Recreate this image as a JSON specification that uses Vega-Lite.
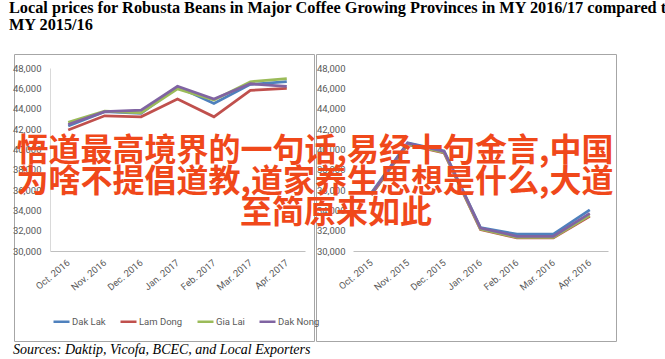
{
  "$schema": "https://vega.github.io/schema/vega-lite/v6.json",
  "background": "white",
  "padding": {"left": 8, "top": 0, "right": 0, "bottom": 0},
  "title": {
    "text": ["Local prices for Robusta Beans in Major Coffee Growing Provinces in MY 2016/17 compared to", "MY 2015/16"],
    "anchor": "start",
    "font": "Liberation Serif",
    "fontSize": 16.3,
    "fontWeight": "bold",
    "color": "#000000",
    "lineHeight": 17,
    "offset": 20,
    "dx": -3
  },
  "datasets": {
    "my1617": [
      {"month": "Oct. 2016", "province": "Dak Lak", "price": 42300},
      {"month": "Nov. 2016", "province": "Dak Lak", "price": 43700},
      {"month": "Dec. 2016", "province": "Dak Lak", "price": 43550},
      {"month": "Jan. 2017", "province": "Dak Lak", "price": 46150},
      {"month": "Feb. 2017", "province": "Dak Lak", "price": 44500},
      {"month": "Mar. 2017", "province": "Dak Lak", "price": 46400},
      {"month": "Apr. 2017", "province": "Dak Lak", "price": 46650},
      {"month": "Oct. 2016", "province": "Lam Dong", "price": 41900},
      {"month": "Nov. 2016", "province": "Lam Dong", "price": 43300},
      {"month": "Dec. 2016", "province": "Lam Dong", "price": 43200},
      {"month": "Jan. 2017", "province": "Lam Dong", "price": 44950},
      {"month": "Feb. 2017", "province": "Lam Dong", "price": 43200},
      {"month": "Mar. 2017", "province": "Lam Dong", "price": 45800},
      {"month": "Apr. 2017", "province": "Lam Dong", "price": 46000},
      {"month": "Oct. 2016", "province": "Gia Lai", "price": 42650},
      {"month": "Nov. 2016", "province": "Gia Lai", "price": 43750},
      {"month": "Dec. 2016", "province": "Gia Lai", "price": 43600},
      {"month": "Jan. 2017", "province": "Gia Lai", "price": 45950},
      {"month": "Feb. 2017", "province": "Gia Lai", "price": 44850},
      {"month": "Mar. 2017", "province": "Gia Lai", "price": 46650},
      {"month": "Apr. 2017", "province": "Gia Lai", "price": 46950},
      {"month": "Oct. 2016", "province": "Dak Nong", "price": 42450},
      {"month": "Nov. 2016", "province": "Dak Nong", "price": 43700},
      {"month": "Dec. 2016", "province": "Dak Nong", "price": 43850},
      {"month": "Jan. 2017", "province": "Dak Nong", "price": 46200},
      {"month": "Feb. 2017", "province": "Dak Nong", "price": 44950},
      {"month": "Mar. 2017", "province": "Dak Nong", "price": 46450},
      {"month": "Apr. 2017", "province": "Dak Nong", "price": 46200}
    ],
    "my1516": [
      {"month": "Oct. 2015", "province": "Dak Lak", "price": 35700},
      {"month": "Nov. 2015", "province": "Dak Lak", "price": 40650},
      {"month": "Dec. 2015", "province": "Dak Lak", "price": 39850},
      {"month": "Jan. 2016", "province": "Dak Lak", "price": 32300},
      {"month": "Feb. 2016", "province": "Dak Lak", "price": 31650},
      {"month": "Mar. 2016", "province": "Dak Lak", "price": 31650},
      {"month": "Apr. 2016", "province": "Dak Lak", "price": 34050},
      {"month": "Oct. 2015", "province": "Lam Dong", "price": 35500},
      {"month": "Nov. 2015", "province": "Lam Dong", "price": 40450},
      {"month": "Dec. 2015", "province": "Lam Dong", "price": 39650},
      {"month": "Jan. 2016", "province": "Lam Dong", "price": 32100},
      {"month": "Feb. 2016", "province": "Lam Dong", "price": 31300},
      {"month": "Mar. 2016", "province": "Lam Dong", "price": 31300},
      {"month": "Apr. 2016", "province": "Lam Dong", "price": 33400},
      {"month": "Oct. 2015", "province": "Gia Lai", "price": 35600},
      {"month": "Nov. 2015", "province": "Gia Lai", "price": 40500},
      {"month": "Dec. 2015", "province": "Gia Lai", "price": 39700},
      {"month": "Jan. 2016", "province": "Gia Lai", "price": 32150},
      {"month": "Feb. 2016", "province": "Gia Lai", "price": 31350},
      {"month": "Mar. 2016", "province": "Gia Lai", "price": 31350},
      {"month": "Apr. 2016", "province": "Gia Lai", "price": 33500},
      {"month": "Oct. 2015", "province": "Dak Nong", "price": 35600},
      {"month": "Nov. 2015", "province": "Dak Nong", "price": 40600},
      {"month": "Dec. 2015", "province": "Dak Nong", "price": 39800},
      {"month": "Jan. 2016", "province": "Dak Nong", "price": 32250},
      {"month": "Feb. 2016", "province": "Dak Nong", "price": 31450},
      {"month": "Mar. 2016", "province": "Dak Nong", "price": 31450},
      {"month": "Apr. 2016", "province": "Dak Nong", "price": 33700}
    ]
  },
  "vconcat": [
    {
      "title": {
        "text": "至简原来如此",
        "orient": "top",
        "anchor": "start",
        "frame": "group",
        "align": "center",
        "baseline": "bottom",
        "dx": 322,
        "dy": 208,
        "offset": 0,
        "font": "Noto Sans CJK SC",
        "fontSize": 32,
        "fontWeight": "bold",
        "color": "#f0481a",
        "zindex": 1
      },
      "bounds": "flush",
      "spacing": 2,
      "hconcat": [
        {
          "width": 300,
          "height": 287,
          "data": {"name": "my1617"},
          "title": {
            "text": "Sources: Daktip, Vicofa, BCEC, and Local Exporters",
            "orient": "bottom",
            "anchor": "start",
            "frame": "group",
            "font": "Liberation Serif",
            "fontSize": 14,
            "fontStyle": "italic",
            "fontWeight": "normal",
            "color": "#000000",
            "offset": 2,
            "dx": -1
          },
          "mark": {"type": "line", "strokeWidth": 2.75},
          "encoding": {
            "x": {
              "field": "month", "type": "ordinal", "sort": null,
              "scale": {"type": "point", "range": [36, 291], "padding": 0.5},
              "axis": {"orient": "bottom", "offset": -90, "labelAngle": -40, "labelAlign": "right", "labelBaseline": "middle", "labelPadding": 10, "labelDx": -2, "domainColor": "#bfbfbf", "title": null}
            },
            "y": {
              "field": "price", "type": "quantitative",
              "scale": {"domain": [30000, 48000], "range": [197, 14], "nice": false, "zero": false},
              "axis": {"offset": -36, "values": [30000, 32000, 34000, 36000, 38000, 40000, 42000, 44000, 46000, 48000], "format": ",.0f", "labelPadding": 9, "domain": true, "domainColor": "#d9d9d9", "title": null}
            },
            "color": {
              "field": "province", "type": "nominal",
              "scale": {"domain": ["Dak Lak", "Lam Dong", "Gia Lai", "Dak Nong"], "range": ["#4f81bd", "#c0504d", "#9bbb59", "#8064a2"]},
              "legend": {"orient": "none", "legendX": 38, "legendY": 258, "direction": "horizontal", "title": null}
            }
          }
        },
        {
          "width": 300,
          "height": 287,
          "data": {"name": "my1516"},
          "title": {
            "text": ["悟道最高境界的一句话,易经十句金言,中国", "为啥不提倡道教,道家养生思想是什么,大道"],
            "orient": "top",
            "anchor": "start",
            "frame": "group",
            "align": "center",
            "baseline": "bottom",
            "dx": -1,
            "dy": 177,
            "offset": 0,
            "font": "Noto Sans CJK SC",
            "fontSize": 32,
            "fontWeight": "bold",
            "color": "#f0481a",
            "lineHeight": 31,
            "zindex": 1
          },
          "mark": {"type": "line", "strokeWidth": 2.75},
          "encoding": {
            "x": {
              "field": "month", "type": "ordinal", "sort": null,
              "scale": {"type": "point", "range": [37, 292], "padding": 0.5},
              "axis": {"orient": "bottom", "offset": -90, "labelAngle": -40, "labelAlign": "right", "labelBaseline": "middle", "labelPadding": 10, "labelDx": -2, "domainColor": "#bfbfbf", "title": null}
            },
            "y": {
              "field": "price", "type": "quantitative",
              "scale": {"domain": [30000, 48000], "range": [197, 14], "nice": false, "zero": false},
              "axis": {"offset": -37, "values": [30000, 32000, 34000, 36000, 38000, 40000, 42000, 44000, 46000, 48000], "format": ",.0f", "labelPadding": 8, "domain": false, "title": null}
            },
            "color": {
              "field": "province", "type": "nominal",
              "scale": {"domain": ["Dak Lak", "Lam Dong", "Gia Lai", "Dak Nong"], "range": ["#4f81bd", "#c0504d", "#9bbb59", "#8064a2"]},
              "legend": {"orient": "none", "legendX": 40, "legendY": 258, "direction": "horizontal", "title": null}
            }
          }
        }
      ]
    }
  ],
  "config": {
    "view": {"stroke": "#a6a6a6", "strokeWidth": 1, "fill": "white"},
    "axis": {"grid": false, "ticks": false, "tickSize": 0, "labelFont": "Liberation Sans Narrow, Roboto, sans-serif", "labelFontSize": 9.5, "labelColor": "#595959", "labelOverlap": false, "labelFlush": false},
    "legend": {"symbolType": "stroke", "symbolSize": 256, "symbolStrokeWidth": 2.5, "labelFont": "Liberation Sans Narrow, Roboto, sans-serif", "labelFontSize": 9.5, "labelColor": "#595959", "labelOffset": 1, "columnPadding": 9, "padding": 0}
  }
}
